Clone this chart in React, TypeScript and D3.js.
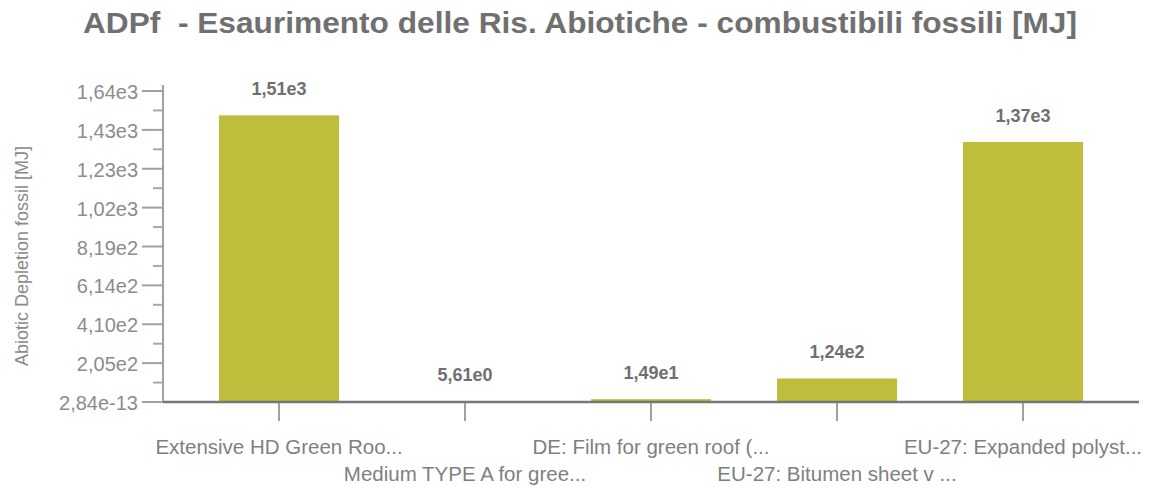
import { useEffect, useRef } from "react";
import * as d3 from "d3";

const categories = [
  "Extensive HD Green Roo...",
  "Medium TYPE A for gree...",
  "DE: Film for green roof (...",
  "EU-27: Bitumen sheet v ...",
  "EU-27: Expanded polyst...",
];
const values = [1510, 5.61, 14.9, 124, 1370];
const valueLabels = ["1,51e3", "5,61e0", "1,49e1", "1,24e2", "1,37e3"];
const yTickValues = [0, 204.8, 409.6, 614.4, 819.2, 1024, 1228.8, 1433.6, 1638.4];
const yTickLabels = [
  "2,84e-13",
  "2,05e2",
  "4,10e2",
  "6,14e2",
  "8,19e2",
  "1,02e3",
  "1,23e3",
  "1,43e3",
  "1,64e3",
];

const WIDTH = 1170;
const HEIGHT = 491;
const BAR_COLOR = "#bebe3c";

export default function App() {
  const svgRef = useRef<SVGSVGElement>(null);

  useEffect(() => {
    if (!svgRef.current) return;
    const svg = d3.select(svgRef.current);
    svg.selectAll("*").remove();

    const axisX = 163;
    const baseY = 402;
    const topY = 91;

    const x = d3
      .scaleBand<string>()
      .domain(categories)
      .range([186, 1116])
      .paddingInner(0.355)
      .paddingOuter(0.1775);

    const y = d3.scaleLinear().domain([0, 1638.4]).range([baseY, topY]);

    const font = "'Liberation Sans', Arial, sans-serif";

    // title
    svg
      .append("text")
      .attr("x", 580)
      .attr("y", 33)
      .attr("text-anchor", "middle")
      .attr("font-family", font)
      .attr("font-weight", "bold")
      .attr("font-size", 30)
      .attr("fill", "#707070")
      .attr("textLength", 994)
      .attr("lengthAdjust", "spacingAndGlyphs")
      .style("white-space", "pre")
      .text("ADPf  - Esaurimento delle Ris. Abiotiche - combustibili fossili [MJ]");

    // y axis title
    svg
      .append("text")
      .attr("transform", `translate(28,256) rotate(-90)`)
      .attr("text-anchor", "middle")
      .attr("font-family", font)
      .attr("font-size", 18)
      .attr("fill", "#8a8a8a")
      .text("Abiotic Depletion fossil [MJ]");

    // bars
    svg
      .append("g")
      .selectAll("rect")
      .data(values)
      .join("rect")
      .attr("x", (_, i) => x(categories[i])!)
      .attr("width", x.bandwidth())
      .attr("y", (d) => y(d))
      .attr("height", (d) => baseY - y(d))
      .attr("fill", BAR_COLOR);

    // value labels
    svg
      .append("g")
      .selectAll("text")
      .data(values)
      .join("text")
      .attr("x", (_, i) => x(categories[i])! + x.bandwidth() / 2)
      .attr("y", (d) => y(d) - 20)
      .attr("text-anchor", "middle")
      .attr("font-family", font)
      .attr("font-weight", "bold")
      .attr("font-size", 18)
      .attr("fill", "#707070")
      .text((_, i) => valueLabels[i]);

    // y axis
    const yAxis = svg.append("g");
    yAxis
      .append("line")
      .attr("x1", axisX)
      .attr("x2", axisX)
      .attr("y1", topY - 6)
      .attr("y2", baseY)
      .attr("stroke", "#a0a0a0")
      .attr("stroke-width", 2);

    const step = yTickValues[1] - yTickValues[0];
    const minor = yTickValues.slice(0, -1).map((v) => v + step / 2);
    yAxis
      .selectAll(".minor")
      .data(minor)
      .join("line")
      .attr("x1", axisX - 10)
      .attr("x2", axisX)
      .attr("y1", (d) => y(d))
      .attr("y2", (d) => y(d))
      .attr("stroke", "#a8a8a8")
      .attr("stroke-width", 2);

    yAxis
      .selectAll(".major")
      .data(yTickValues)
      .join("line")
      .attr("x1", axisX - 21)
      .attr("x2", axisX)
      .attr("y1", (d) => y(d))
      .attr("y2", (d) => y(d))
      .attr("stroke", "#a0a0a0")
      .attr("stroke-width", 2);

    yAxis
      .selectAll("text")
      .data(yTickValues)
      .join("text")
      .attr("x", axisX - 25)
      .attr("y", (d) => y(d) + 8)
      .attr("text-anchor", "end")
      .attr("font-family", font)
      .attr("font-size", 20)
      .attr("fill", "#8c8c8c")
      .text((_, i) => yTickLabels[i]);

    // x axis
    const xAxis = svg.append("g");
    xAxis
      .selectAll("line.tick")
      .data(categories)
      .join("line")
      .attr("x1", (d) => x(d)! + x.bandwidth() / 2)
      .attr("x2", (d) => x(d)! + x.bandwidth() / 2)
      .attr("y1", baseY)
      .attr("y2", baseY + 19)
      .attr("stroke", "#a0a0a0")
      .attr("stroke-width", 2);

    xAxis
      .append("line")
      .attr("x1", axisX)
      .attr("x2", 1139)
      .attr("y1", baseY)
      .attr("y2", baseY)
      .attr("stroke", "#777")
      .attr("stroke-width", 2.5);

    xAxis
      .selectAll("text")
      .data(categories)
      .join("text")
      .attr("x", (d) => x(d)! + x.bandwidth() / 2)
      .attr("y", (_, i) => (i % 2 === 0 ? 454 : 481))
      .attr("text-anchor", "middle")
      .attr("font-family", font)
      .attr("font-size", 20.5)
      .attr("fill", "#808080")
      .text((d) => d);
  }, []);

  return (
    <svg
      ref={svgRef}
      width={WIDTH}
      height={HEIGHT}
      style={{ position: "absolute", left: 0, top: 0, background: "#fff" }}
    />
  );
}
